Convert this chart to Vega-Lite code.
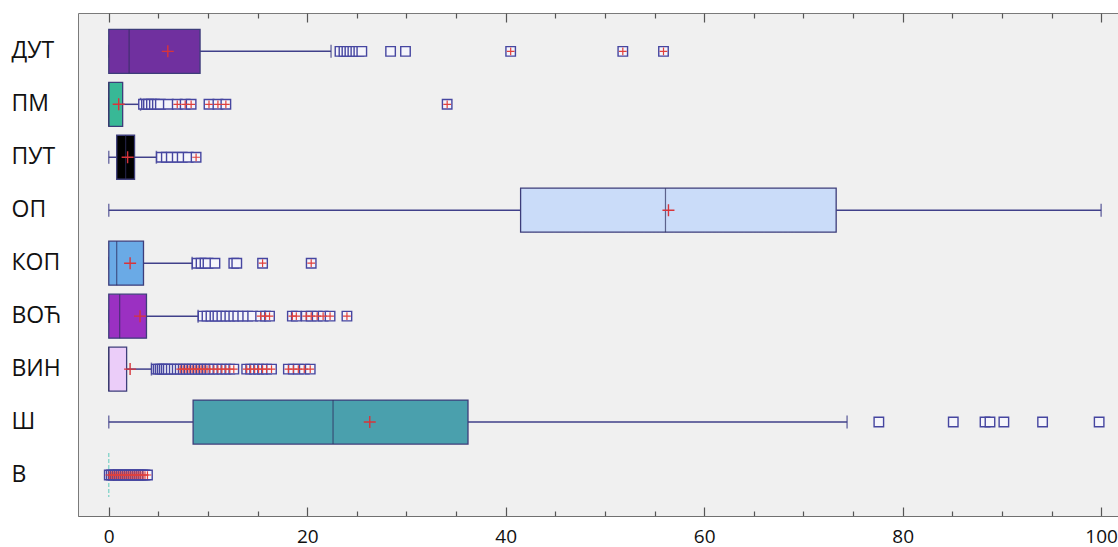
{
  "$schema": "https://vega.github.io/schema/vega-lite/v6.json",
  "width": 1040,
  "height": 503,
  "autosize": "none",
  "padding": {"left": 78, "top": 13, "right": 0, "bottom": 31},
  "background": "white",
  "config": {
    "view": {"fill": "#f0f0f0", "stroke": "#7a7a7a", "strokeWidth": 1},
    "font": "Open Sans"
  },
  "datasets": {
    "boxes": [
      {"cat": "ДУТ", "min": 0, "q1": 0, "median": 2.05, "q3": 9.2, "max": 22.4, "mean": 5.95},
      {"cat": "ПМ", "min": 0, "q1": 0, "median": 0, "q3": 1.4, "max": 3.2, "mean": 1.0},
      {"cat": "ПУТ", "min": 0, "q1": 0.8, "median": 1.7, "q3": 2.6, "max": 4.8, "mean": 1.9},
      {"cat": "ОП", "min": 0, "q1": 41.5, "median": 56.1, "q3": 73.3, "max": 100, "mean": 56.4},
      {"cat": "КОП", "min": 0, "q1": 0, "median": 0.8, "q3": 3.5, "max": 8.4, "mean": 2.15},
      {"cat": "ВОЋ", "min": 0, "q1": 0, "median": 1.1, "q3": 3.8, "max": 9.0, "mean": 3.15},
      {"cat": "ВИН", "min": 0, "q1": 0, "median": 0, "q3": 1.8, "max": 4.3, "mean": 2.15},
      {"cat": "Ш", "min": 0, "q1": 8.5, "median": 22.6, "q3": 36.2, "max": 74.4, "mean": 26.3},
      {"cat": "В", "min": 0, "q1": 0, "median": 0, "q3": 0, "max": 0, "mean": 0.5}
    ],
    "outliers": [
      {"cat": "ДУТ", "value": 23.3, "type": "mild"},
      {"cat": "ДУТ", "value": 23.7, "type": "mild"},
      {"cat": "ДУТ", "value": 24.0, "type": "mild"},
      {"cat": "ДУТ", "value": 24.3, "type": "mild"},
      {"cat": "ДУТ", "value": 24.6, "type": "mild"},
      {"cat": "ДУТ", "value": 24.9, "type": "mild"},
      {"cat": "ДУТ", "value": 25.2, "type": "mild"},
      {"cat": "ДУТ", "value": 25.5, "type": "mild"},
      {"cat": "ДУТ", "value": 28.4, "type": "mild"},
      {"cat": "ДУТ", "value": 29.9, "type": "mild"},
      {"cat": "ДУТ", "value": 40.5, "type": "extreme"},
      {"cat": "ДУТ", "value": 51.8, "type": "extreme"},
      {"cat": "ДУТ", "value": 55.9, "type": "extreme"},
      {"cat": "ПМ", "value": 3.5, "type": "mild"},
      {"cat": "ПМ", "value": 3.8, "type": "mild"},
      {"cat": "ПМ", "value": 4.0, "type": "mild"},
      {"cat": "ПМ", "value": 4.3, "type": "mild"},
      {"cat": "ПМ", "value": 4.6, "type": "mild"},
      {"cat": "ПМ", "value": 4.9, "type": "mild"},
      {"cat": "ПМ", "value": 5.2, "type": "mild"},
      {"cat": "ПМ", "value": 6.0, "type": "mild"},
      {"cat": "ПМ", "value": 6.9, "type": "extreme"},
      {"cat": "ПМ", "value": 7.7, "type": "extreme"},
      {"cat": "ПМ", "value": 8.3, "type": "extreme"},
      {"cat": "ПМ", "value": 10.1, "type": "extreme"},
      {"cat": "ПМ", "value": 11.0, "type": "extreme"},
      {"cat": "ПМ", "value": 11.8, "type": "extreme"},
      {"cat": "ПМ", "value": 34.1, "type": "extreme"},
      {"cat": "ПУТ", "value": 5.3, "type": "mild"},
      {"cat": "ПУТ", "value": 5.8, "type": "mild"},
      {"cat": "ПУТ", "value": 6.3, "type": "mild"},
      {"cat": "ПУТ", "value": 6.9, "type": "mild"},
      {"cat": "ПУТ", "value": 7.4, "type": "mild"},
      {"cat": "ПУТ", "value": 8.0, "type": "mild"},
      {"cat": "ПУТ", "value": 8.8, "type": "extreme"},
      {"cat": "КОП", "value": 8.9, "type": "mild"},
      {"cat": "КОП", "value": 9.3, "type": "mild"},
      {"cat": "КОП", "value": 9.7, "type": "mild"},
      {"cat": "КОП", "value": 10.0, "type": "mild"},
      {"cat": "КОП", "value": 10.7, "type": "mild"},
      {"cat": "КОП", "value": 12.6, "type": "mild"},
      {"cat": "КОП", "value": 12.9, "type": "mild"},
      {"cat": "КОП", "value": 15.5, "type": "extreme"},
      {"cat": "КОП", "value": 20.4, "type": "extreme"},
      {"cat": "ВОЋ", "value": 9.5, "type": "mild"},
      {"cat": "ВОЋ", "value": 9.9, "type": "mild"},
      {"cat": "ВОЋ", "value": 10.3, "type": "mild"},
      {"cat": "ВОЋ", "value": 10.7, "type": "mild"},
      {"cat": "ВОЋ", "value": 11.0, "type": "mild"},
      {"cat": "ВОЋ", "value": 11.4, "type": "mild"},
      {"cat": "ВОЋ", "value": 11.8, "type": "mild"},
      {"cat": "ВОЋ", "value": 12.2, "type": "mild"},
      {"cat": "ВОЋ", "value": 12.6, "type": "mild"},
      {"cat": "ВОЋ", "value": 13.0, "type": "mild"},
      {"cat": "ВОЋ", "value": 13.5, "type": "mild"},
      {"cat": "ВОЋ", "value": 14.0, "type": "mild"},
      {"cat": "ВОЋ", "value": 14.5, "type": "mild"},
      {"cat": "ВОЋ", "value": 15.3, "type": "extreme"},
      {"cat": "ВОЋ", "value": 15.8, "type": "extreme"},
      {"cat": "ВОЋ", "value": 16.2, "type": "extreme"},
      {"cat": "ВОЋ", "value": 18.5, "type": "extreme"},
      {"cat": "ВОЋ", "value": 18.9, "type": "extreme"},
      {"cat": "ВОЋ", "value": 19.9, "type": "extreme"},
      {"cat": "ВОЋ", "value": 20.4, "type": "extreme"},
      {"cat": "ВОЋ", "value": 21.0, "type": "extreme"},
      {"cat": "ВОЋ", "value": 21.6, "type": "extreme"},
      {"cat": "ВОЋ", "value": 22.3, "type": "extreme"},
      {"cat": "ВОЋ", "value": 24.0, "type": "extreme"},
      {"cat": "ВИН", "value": 4.8, "type": "mild"},
      {"cat": "ВИН", "value": 5.0, "type": "mild"},
      {"cat": "ВИН", "value": 5.2, "type": "mild"},
      {"cat": "ВИН", "value": 5.4, "type": "mild"},
      {"cat": "ВИН", "value": 5.6, "type": "mild"},
      {"cat": "ВИН", "value": 5.8, "type": "mild"},
      {"cat": "ВИН", "value": 6.0, "type": "mild"},
      {"cat": "ВИН", "value": 6.3, "type": "mild"},
      {"cat": "ВИН", "value": 6.6, "type": "mild"},
      {"cat": "ВИН", "value": 6.9, "type": "mild"},
      {"cat": "ВИН", "value": 7.2, "type": "extreme"},
      {"cat": "ВИН", "value": 7.5, "type": "extreme"},
      {"cat": "ВИН", "value": 7.8, "type": "extreme"},
      {"cat": "ВИН", "value": 8.1, "type": "extreme"},
      {"cat": "ВИН", "value": 8.4, "type": "extreme"},
      {"cat": "ВИН", "value": 8.7, "type": "extreme"},
      {"cat": "ВИН", "value": 9.0, "type": "extreme"},
      {"cat": "ВИН", "value": 9.3, "type": "extreme"},
      {"cat": "ВИН", "value": 9.6, "type": "extreme"},
      {"cat": "ВИН", "value": 9.9, "type": "extreme"},
      {"cat": "ВИН", "value": 10.2, "type": "extreme"},
      {"cat": "ВИН", "value": 10.6, "type": "extreme"},
      {"cat": "ВИН", "value": 11.0, "type": "extreme"},
      {"cat": "ВИН", "value": 11.4, "type": "extreme"},
      {"cat": "ВИН", "value": 11.8, "type": "extreme"},
      {"cat": "ВИН", "value": 12.2, "type": "extreme"},
      {"cat": "ВИН", "value": 12.6, "type": "extreme"},
      {"cat": "ВИН", "value": 13.9, "type": "extreme"},
      {"cat": "ВИН", "value": 14.3, "type": "extreme"},
      {"cat": "ВИН", "value": 14.7, "type": "extreme"},
      {"cat": "ВИН", "value": 15.1, "type": "extreme"},
      {"cat": "ВИН", "value": 15.5, "type": "extreme"},
      {"cat": "ВИН", "value": 15.9, "type": "extreme"},
      {"cat": "ВИН", "value": 16.4, "type": "extreme"},
      {"cat": "ВИН", "value": 18.1, "type": "extreme"},
      {"cat": "ВИН", "value": 18.6, "type": "extreme"},
      {"cat": "ВИН", "value": 19.1, "type": "extreme"},
      {"cat": "ВИН", "value": 19.7, "type": "extreme"},
      {"cat": "ВИН", "value": 20.3, "type": "extreme"},
      {"cat": "Ш", "value": 77.6, "type": "mild"},
      {"cat": "Ш", "value": 85.1, "type": "mild"},
      {"cat": "Ш", "value": 88.3, "type": "mild"},
      {"cat": "Ш", "value": 88.8, "type": "mild"},
      {"cat": "Ш", "value": 90.2, "type": "mild"},
      {"cat": "Ш", "value": 94.1, "type": "mild"},
      {"cat": "Ш", "value": 99.8, "type": "mild"},
      {"cat": "В", "value": 0.05, "type": "extreme"},
      {"cat": "В", "value": 0.25, "type": "extreme"},
      {"cat": "В", "value": 0.45, "type": "extreme"},
      {"cat": "В", "value": 0.65, "type": "extreme"},
      {"cat": "В", "value": 0.85, "type": "extreme"},
      {"cat": "В", "value": 1.05, "type": "extreme"},
      {"cat": "В", "value": 1.25, "type": "extreme"},
      {"cat": "В", "value": 1.45, "type": "extreme"},
      {"cat": "В", "value": 1.65, "type": "extreme"},
      {"cat": "В", "value": 1.85, "type": "extreme"},
      {"cat": "В", "value": 2.05, "type": "extreme"},
      {"cat": "В", "value": 2.25, "type": "extreme"},
      {"cat": "В", "value": 2.45, "type": "extreme"},
      {"cat": "В", "value": 2.65, "type": "extreme"},
      {"cat": "В", "value": 2.85, "type": "extreme"},
      {"cat": "В", "value": 3.05, "type": "extreme"},
      {"cat": "В", "value": 3.25, "type": "extreme"},
      {"cat": "В", "value": 3.45, "type": "extreme"},
      {"cat": "В", "value": 3.65, "type": "extreme"},
      {"cat": "В", "value": 3.9, "type": "extreme"}
    ]
  },
  "layer": [
    {
      "layer": [
        {
          "data": {"name": "boxes"},
          "mark": {"type": "rule", "color": "#40408a", "strokeWidth": 1.5},
          "encoding": {
            "x": {"field": "min", "type": "quantitative", "title": null,
              "scale": {"domain": [-3.1, 101.7], "nice": false, "zero": false},
              "axis": {
                "values": [0, 5, 10, 15, 20, 25, 30, 35, 40, 45, 50, 55, 60, 65, 70, 75, 80, 85, 90, 95, 100],
                "labelExpr": "datum.value % 20 === 0 ? datum.label : ''",
                "tickSize": {"condition": {"test": "datum.value % 20 === 0", "value": -9}, "value": -5},
                "tickColor": "#555555", "tickWidth": 1.2,
                "domainColor": "#707070", "domainWidth": 1.2,
                "labelFontSize": 19, "labelColor": "#111111", "labelPadding": 20,
                "labelFont": "Open Sans", "grid": false, "title": null
              }
            },
            "x2": {"field": "q1"},
            "y": {"field": "cat", "type": "nominal", "title": null,
              "sort": ["ДУТ", "ПМ", "ПУТ", "ОП", "КОП", "ВОЋ", "ВИН", "Ш", "В"],
              "scale": {"paddingInner": 0, "paddingOuter": 0.249, "align": 0.45},
              "axis": {"domain": false, "ticks": false, "labelFontSize": 23, "labelFont": "Open Sans",
                "labelColor": "#111111", "labelAlign": "left", "labelPadding": 67, "labelBaseline": "middle", "title": null}
            }
          }
        },
        {
          "data": {"name": "boxes"},
          "mark": {"type": "rule", "color": "#40408a", "strokeWidth": 1.5},
          "encoding": {
            "x": {"field": "q3", "type": "quantitative", "title": null},
            "x2": {"field": "max"},
            "y": {"field": "cat", "type": "nominal", "sort": ["ДУТ", "ПМ", "ПУТ", "ОП", "КОП", "ВОЋ", "ВИН", "Ш", "В"], "title": null}
          }
        },
        {
          "data": {"name": "boxes"},
          "transform": [{"filter": "datum.cat !== 'В'"}],
          "mark": {"type": "tick", "color": "#40408a", "thickness": 1.5, "size": 13, "orient": "vertical"},
          "encoding": {
            "x": {"field": "min", "type": "quantitative", "title": null},
            "y": {"field": "cat", "type": "nominal", "sort": ["ДУТ", "ПМ", "ПУТ", "ОП", "КОП", "ВОЋ", "ВИН", "Ш", "В"], "title": null}
          }
        },
        {
          "data": {"name": "boxes"},
          "transform": [{"filter": "datum.cat !== 'В'"}],
          "mark": {"type": "tick", "color": "#40408a", "thickness": 1.5, "size": 13, "orient": "vertical"},
          "encoding": {
            "x": {"field": "max", "type": "quantitative", "title": null},
            "y": {"field": "cat", "type": "nominal", "sort": ["ДУТ", "ПМ", "ПУТ", "ОП", "КОП", "ВОЋ", "ВИН", "Ш", "В"], "title": null}
          }
        },
        {
          "data": {"name": "boxes"},
          "mark": {"type": "bar", "size": 44, "strokeWidth": 1.3, "opacity": 1},
          "encoding": {
            "x": {"field": "q1", "type": "quantitative", "title": null},
            "x2": {"field": "q3"},
            "y": {"field": "cat", "type": "nominal", "sort": ["ДУТ", "ПМ", "ПУТ", "ОП", "КОП", "ВОЋ", "ВИН", "Ш", "В"], "title": null},
            "color": {"field": "cat", "type": "nominal", "legend": null,
              "scale": {
                "domain": ["ДУТ", "ПМ", "ПУТ", "ОП", "КОП", "ВОЋ", "ВИН", "Ш", "В"],
                "range": ["#70309f", "#38b896", "#000000", "#cadcf9", "#6aaae6", "#9b30c2", "#ebcdf9", "#4aa0ad", "#7fd3c8"]
              }
            },
            "stroke": {"condition": {"test": "datum.cat === 'В'", "value": "#7fd3c8"}, "value": "#3d3d7a"},
            "strokeDash": {"condition": {"test": "datum.cat === 'В'", "value": [3, 3]}, "value": [1, 0]}
          }
        },
        {
          "data": {"name": "boxes"},
          "transform": [{"filter": "datum.cat !== 'В'"}],
          "mark": {"type": "tick", "color": "#2e2e5e", "thickness": 1.2, "size": 44, "orient": "vertical"},
          "encoding": {
            "x": {"field": "median", "type": "quantitative", "title": null},
            "y": {"field": "cat", "type": "nominal", "sort": ["ДУТ", "ПМ", "ПУТ", "ОП", "КОП", "ВОЋ", "ВИН", "Ш", "В"], "title": null}
          }
        },
        {
          "data": {"name": "boxes"},
          "mark": {"type": "point", "shape": "M-1,0H1M0,-1V1", "size": 144, "filled": false, "stroke": "#d8343a", "strokeWidth": 1.4, "opacity": 1},
          "encoding": {
            "x": {"field": "mean", "type": "quantitative", "title": null},
            "y": {"field": "cat", "type": "nominal", "sort": ["ДУТ", "ПМ", "ПУТ", "ОП", "КОП", "ВОЋ", "ВИН", "Ш", "В"], "title": null}
          }
        },
        {
          "data": {"name": "outliers"},
          "mark": {"type": "point", "shape": "square", "size": 90, "filled": true, "fill": "#f5f5fb", "stroke": "#4646a0", "strokeWidth": 1.4, "opacity": 1},
          "encoding": {
            "x": {"field": "value", "type": "quantitative", "title": null},
            "y": {"field": "cat", "type": "nominal", "sort": ["ДУТ", "ПМ", "ПУТ", "ОП", "КОП", "ВОЋ", "ВИН", "Ш", "В"], "title": null}
          }
        },
        {
          "data": {"name": "outliers"},
          "transform": [{"filter": "datum.type === 'extreme'"}],
          "mark": {"type": "point", "shape": "M-1,0H1M0,-1V1", "size": 60, "filled": false, "stroke": "#e0403c", "strokeWidth": 1.2, "opacity": 1},
          "encoding": {
            "x": {"field": "value", "type": "quantitative", "title": null},
            "y": {"field": "cat", "type": "nominal", "sort": ["ДУТ", "ПМ", "ПУТ", "ОП", "КОП", "ВОЋ", "ВИН", "Ш", "В"], "title": null}
          }
        }
      ]
    },
    {
      "data": {"name": "boxes"},
      "mark": {"type": "point", "opacity": 0},
      "encoding": {
        "x": {"field": "max", "type": "quantitative", "title": null,
          "scale": {"domain": [-3.1, 101.7], "nice": false, "zero": false},
          "axis": {
            "orient": "top",
            "values": [0, 5, 10, 15, 20, 25, 30, 35, 40, 45, 50, 55, 60, 65, 70, 75, 80, 85, 90, 95, 100],
            "labels": false, "domain": false, "grid": false, "title": null,
            "tickSize": {"condition": {"test": "datum.value % 20 === 0", "value": -9}, "value": -5},
            "tickColor": "#555555", "tickWidth": 1.2
          }
        }
      }
    }
  ],
  "resolve": {"axis": {"x": "independent"}}
}
